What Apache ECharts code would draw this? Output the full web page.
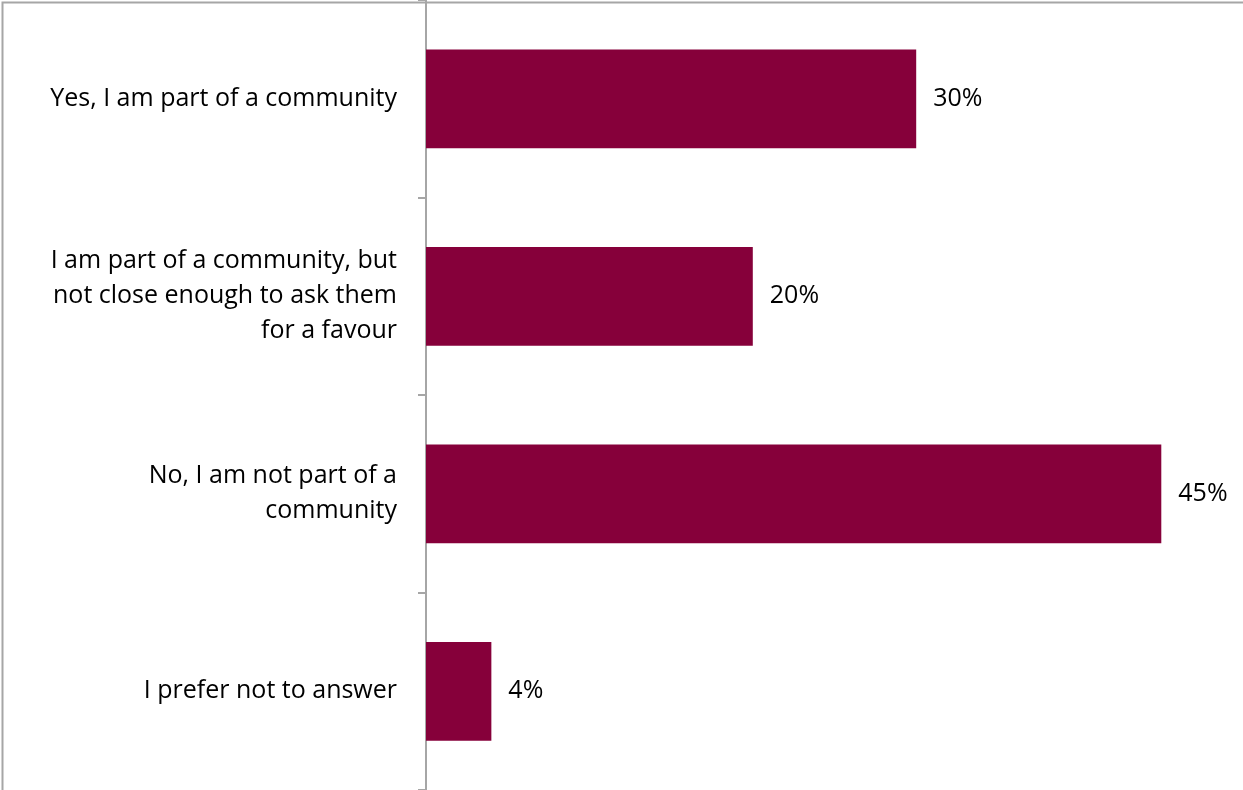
<!DOCTYPE html>
<html><head><meta charset="utf-8">
<script src="https://cdn.jsdelivr.net/npm/echarts@6/dist/echarts.min.js"></script>
<style>html,body{margin:0;padding:0;background:#fff}#c{width:1243px;height:790px}</style>
</head><body><div id="c"></div>
<script>
const categories = [
  "Yes, I am part of a community",
  "I am part of a community, but\nnot close enough to ask them\nfor a favour",
  "No, I am not part of a\ncommunity",
  "I prefer not to answer"
];
const values = [30, 20, 45, 4];

const chart = echarts.init(document.getElementById('c'));
chart.setOption({
  animation: false,
  backgroundColor: '#fff',
  graphic: [{
    type: 'rect', left: 0, top: 0, z: 100, silent: true,
    shape: {width: 1260, height: 789},
    style: {fill: 'none', stroke: '#a6a6a6', lineWidth: 2}
  }],
  grid: {left: 426, right: 0, top: 0, bottom: 0, containLabel: false},
  xAxis: {
    type: 'value', min: 0, max: 50, show: false
  },
  yAxis: {
    type: 'category', data: categories, inverse: true,
    axisLine: {show: true, lineStyle: {color: '#a6a6a6', width: 2}},
    axisTick: {show: true, length: 8, lineStyle: {color: '#a6a6a6', width: 2}},
    axisLabel: {
      color: '#000', fontFamily: 'Open Sans', fontSize: 25, lineHeight: 35,
      align: 'right', margin: 29
    },
    splitLine: {show: false}
  },
  series: [{
    type: 'bar', data: values, barCategoryGap: '50%',
    itemStyle: {color: '#86003A'},
    label: {
      show: true, position: 'right', distance: 17,
      formatter: p => p.value + '%',
      color: '#000', fontFamily: 'Open Sans', fontSize: 25
    }
  }]
});
</script></body></html>
